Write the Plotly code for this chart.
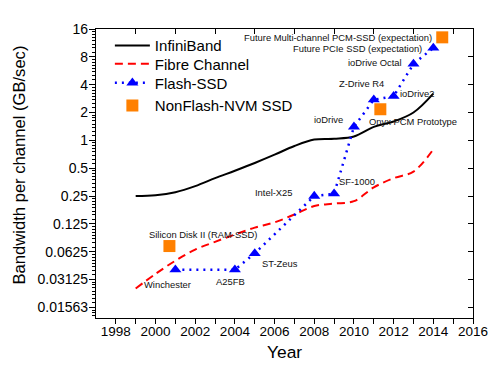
import numpy as np
import plotly.graph_objects as go

# ---------------- data ----------------
ib_years = [1999, 2000, 2001, 2002, 2003, 2004, 2005, 2006, 2007, 2008, 2009, 2010, 2011, 2012, 2013, 2014]
ib_bw = [0.25, 0.255, 0.275, 0.32, 0.39, 0.47, 0.57, 0.70, 0.87, 1.02, 1.04, 1.10, 1.40, 1.60, 2.0, 3.2]

fc_years = [1999, 2000, 2001, 2002, 2003, 2004, 2005, 2006, 2007, 2008, 2009, 2010, 2011, 2012, 2013, 2014]
fc_bw = [0.025, 0.036, 0.050, 0.066, 0.080, 0.096, 0.114, 0.13, 0.158, 0.195, 0.207, 0.22, 0.31, 0.39, 0.46, 0.80]

flash_names = ["Winchester", "A25FB", "ST-Zeus", "Intel-X25", "SF-1000", "ioDrive",
               "Z-Drive R4", "ioDrive2", "ioDrive Octal", "Future PCIe SSD (expectation)"]
flash_years = [2001, 2004, 2005, 2008, 2009, 2010, 2011, 2012, 2013, 2014]
flash_bw = [0.04, 0.04, 0.06, 0.25, 0.265, 1.4, 2.75, 3.0, 6.7, 10.0]

nvm_names = ["Silicon Disk II (RAM-SSD)", "Onyx PCM Prototype",
             "Future Multi-channel PCM-SSD (expectation)"]
nvm_years = [2000.7, 2011.33, 2014.45]
nvm_bw = [0.072, 2.17, 13.0]

x_tick_years = list(range(1998, 2017))
x_top_ticks = list(range(1999, 2016, 2))
y_tick_vals = [16, 8, 4, 2, 1, 0.5, 0.25, 0.125, 0.0625, 0.03125, 0.015625]
y_tick_text = ["16", "8", "4", "2", "1", "0.5", "0.25", "0.125", "0.0625", "0.03125", "0.01563"]

# ---------------- styles ----------------
FONT = "Liberation Sans, Arial, sans-serif"
X_RANGE = [1997, 2016]
Y_RANGE = [np.log10(2 ** -6.38), np.log10(16)]

label_style = {
    "Winchester": ("center", -7.5, -14.5),
    "A25FB": ("center", -4, -12),
    "ST-Zeus": ("left", 5.7, -10.4),
    "Intel-X25": ("right", -19, 4),
    "SF-1000": ("left", 3, 12.2),
    "ioDrive": ("right", -9.3, 7.7),
    "Z-Drive R4": ("center", -12.7, 16.5),
    "ioDrive2": ("left", 4.7, 3),
    "ioDrive Octal": ("right", -9.3, 1.7),
    "Future PCIe SSD (expectation)": ("right", -9.3, -1),
    "Silicon Disk II (RAM-SSD)": ("left", -22, 12),
    "Onyx PCM Prototype": ("left", -13.6, -12.4),
    "Future Multi-channel PCM-SSD (expectation)": ("right", -8.3, -0.6),
}

fig = go.Figure()

fig.add_trace(go.Scatter(
    x=ib_years, y=ib_bw, mode="lines", name="InfiniBand",
    line=dict(color="black", width=2, shape="spline", smoothing=1),
    legend="legend"))
fig.add_trace(go.Scatter(
    x=fc_years, y=fc_bw, mode="lines", name="Fibre Channel",
    line=dict(color="#FF0000", width=2, dash="8px,5px", shape="spline", smoothing=1),
    legend="legend2"))
fig.add_trace(go.Scatter(
    x=flash_years, y=flash_bw, mode="lines+markers", name="Flash-SSD",
    line=dict(color="#0000FF", width=2.5, dash="2px,5px"),
    marker=dict(symbol="triangle-up", size=10.5, color="#0000FF"),
    legend="legend3"))
fig.add_trace(go.Scatter(
    x=nvm_years, y=nvm_bw, mode="markers", name="NonFlash-NVM SSD",
    marker=dict(symbol="square", size=12, color="#FF8000"),
    legend="legend4"))
# empty trace to host the mirrored (inside-tick) axes
fig.add_trace(go.Scatter(x=[], y=[], xaxis="x2", yaxis="y2", showlegend=False,
                         hoverinfo="skip"))

annotations = []
for names, years, vals in [(flash_names, flash_years, flash_bw), (nvm_names, nvm_years, nvm_bw)]:
    for n, xv, yv in zip(names, years, vals):
        anc, dx, dy = label_style[n]
        annotations.append(dict(
            x=xv, y=np.log10(yv), xref="x", yref="y", text=n, showarrow=False,
            xanchor=anc, yanchor="middle", xshift=dx, yshift=dy,
            font=dict(family=FONT, size=9.4, color="#111111")))

annotations.append(dict(
    x=-0.2026, y=0.53, xref="paper", yref="paper", text="Bandwidth per channel (GB/sec)",
    textangle=-90, showarrow=False, xanchor="center", yanchor="middle",
    font=dict(family=FONT, size=16.6, color="black")))
annotations.append(dict(
    x=0.5, y=-0.118, xref="paper", yref="paper", text="Year",
    showarrow=False, xanchor="center", yanchor="middle",
    font=dict(family=FONT, size=17.4, color="black")))

minor_vals = []
for b in y_tick_vals + [0.0078125]:
    for k in range(1, 8):
        minor_vals.append(b * (1 + k / 8))


def legend_box(ytop):
    return dict(x=0.0368, y=ytop, xanchor="left", yanchor="top",
                bgcolor="rgba(0,0,0,0)", font=dict(family=FONT, size=15, color="black"),
                itemwidth=35)


# the page body has an 8px default margin, so the figure is 8px smaller
fig.update_layout(
    width=492, height=367,
    margin=dict(l=88, r=24, t=21, b=57),
    paper_bgcolor="white", plot_bgcolor="white",
    font=dict(family=FONT, color="black"),
    showlegend=True,
    legend=legend_box(0.999),
    legend2=legend_box(0.9356),
    legend3=legend_box(0.8699),
    legend4=legend_box(0.7913),
    xaxis=dict(range=X_RANGE, showgrid=False, zeroline=False,
               showline=True, linecolor="black", linewidth=1.2, mirror=True,
               tickmode="array", tickvals=x_tick_years,
               ticktext=[str(y) if y % 2 == 0 else "" for y in x_tick_years],
               ticks="outside", ticklen=5, tickwidth=1, tickcolor="black",
               ticklabelstandoff=-4,
               tickfont=dict(family=FONT, size=13.5)),
    yaxis=dict(type="log", range=Y_RANGE, showgrid=False, zeroline=False,
               showline=True, linecolor="black", linewidth=1.2, mirror=True,
               tickmode="array", tickvals=y_tick_vals, ticktext=y_tick_text,
               ticks="outside", ticklen=6, tickwidth=1, tickcolor="black",
               ticklabelstandoff=-2,
               tickfont=dict(family=FONT, size=14),
               minor=dict(tickmode="array", tickvals=minor_vals, ticks="outside",
                          ticklen=3, tickwidth=1, tickcolor="black", showgrid=False)),
    xaxis2=dict(overlaying="x", side="top", anchor="y", range=X_RANGE,
                showgrid=False, zeroline=False, showline=False,
                tickmode="array", tickvals=x_top_ticks, showticklabels=False,
                ticks="inside", ticklen=5, tickcolor="black"),
    yaxis2=dict(overlaying="y", side="right", anchor="x", type="log", range=Y_RANGE,
                showgrid=False, zeroline=False, showline=False,
                tickmode="array", tickvals=y_tick_vals, showticklabels=False,
                ticks="inside", ticklen=5, tickcolor="black"),
    annotations=annotations,
)

fig.write_html("out.html")
